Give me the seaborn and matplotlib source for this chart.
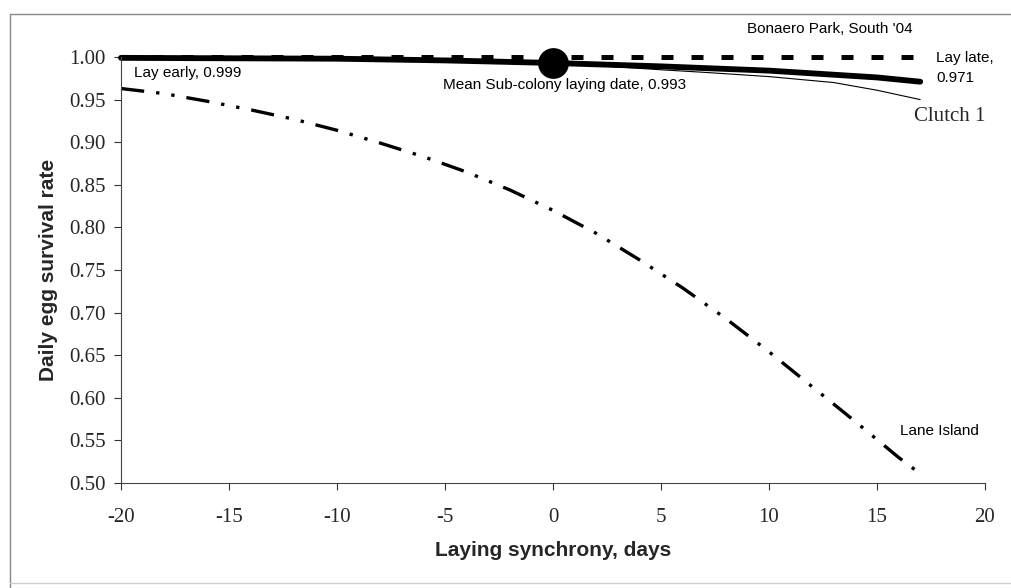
import numpy as np
import pandas as pd
import matplotlib
matplotlib.use("Agg")
import matplotlib.pyplot as plt
from matplotlib.lines import Line2D
import seaborn as sns

# Laying synchrony (days relative to the mean sub-colony laying date)
lane_x = [-20, -18, -16, -14, -12, -10, -8, -6, -4, -2, 0, 2, 4, 6, 8, 10, 12, 14, 16, 17]
lane_y = [0.963, 0.957, 0.948, 0.938, 0.927, 0.914, 0.899, 0.883, 0.865, 0.844,
          0.820, 0.793, 0.762, 0.729, 0.693, 0.654, 0.613, 0.572, 0.530, 0.511]

bonaero_x = [-20, -10, 0, 10, 17]
bonaero_y = [1.000, 1.000, 1.000, 1.000, 1.000]

south_x = [-20, -15, -10, -5, 0, 5, 10, 15, 17]
south_y = [0.999, 0.9985, 0.998, 0.996, 0.993, 0.989, 0.984, 0.976, 0.971]

clutch_x = [-20, -15, -10, -5, 0, 2, 5, 7, 10, 13, 15, 17]
clutch_y = [0.999, 0.9985, 0.998, 0.996, 0.993, 0.990, 0.985, 0.982, 0.977, 0.970, 0.961, 0.950]

mean_x = [0]
mean_y = [0.993]

x_ticks = [-20, -15, -10, -5, 0, 5, 10, 15, 20]
y_ticks = [0.50, 0.55, 0.60, 0.65, 0.70, 0.75, 0.80, 0.85, 0.90, 0.95, 1.00]

sns.set_style("white")
plt.rcParams["font.family"] = ["Liberation Sans", "DejaVu Sans"]

fig = plt.figure(figsize=(10.12, 5.88), dpi=100)
ax = fig.add_axes([121 / 1012, 1 - 483 / 588, (985 - 121) / 1012, (483 - 57) / 588])

lane = pd.DataFrame({"x": lane_x, "y": lane_y})
bonaero = pd.DataFrame({"x": bonaero_x, "y": bonaero_y})
south = pd.DataFrame({"x": south_x, "y": south_y})
clutch = pd.DataFrame({"x": clutch_x, "y": clutch_y})
mean = pd.DataFrame({"x": mean_x, "y": mean_y})

# Lane Island: dash-dot-dot curve
sns.lineplot(data=lane, x="x", y="y", ax=ax, color="black", lw=2.4)
ax.lines[-1].set_dashes((7.0, 3.6, 1.0, 3.6, 1.0, 3.6))
ax.lines[-1].set_dash_capstyle("butt")

# Clutch 1: thin line
sns.lineplot(data=clutch, x="x", y="y", ax=ax, color="black", lw=0.8)

# Bonaero Park, South '04: thick solid line
sns.lineplot(data=south, x="x", y="y", ax=ax, color="black", lw=4.2)
ax.lines[-1].set_solid_capstyle("round")

# Bonaero Park: thick dashed line
sns.lineplot(data=bonaero, x="x", y="y", ax=ax, color="black", lw=3.6)
ax.lines[-1].set_dashes((2.4, 3.6))

for ln in ax.lines:
    ln.set_clip_on(False)

# Mean sub-colony laying date
sns.scatterplot(data=mean, x="x", y="y", ax=ax, s=420, color="black",
                edgecolor="black", zorder=5, clip_on=False)

ax.set_xlim(-20, 20)
ax.set_ylim(0.50, 1.00)
ax.set_xticks(x_ticks)
ax.set_xticklabels([f"{t:d}" for t in x_ticks])
ax.set_yticks(y_ticks)
ax.set_yticklabels([f"{t:.2f}" for t in y_ticks])

serif = ["Liberation Serif", "DejaVu Serif"]
for lab in ax.get_xticklabels() + ax.get_yticklabels():
    lab.set_fontfamily(serif)
    lab.set_fontsize(15)

ax.tick_params(axis="x", direction="out", length=5, width=0.8, pad=13, color="#333333")
ax.tick_params(axis="y", direction="out", length=5, width=0.8, pad=6, color="#333333")
ax.tick_params(bottom=True, left=True)

for side in ("top", "right"):
    ax.spines[side].set_visible(False)
for side in ("left", "bottom"):
    ax.spines[side].set_color("#444444")
    ax.spines[side].set_linewidth(0.8)

ax.set_xlabel("Laying synchrony, days", fontsize=15, fontweight="bold", labelpad=10)
ax.set_ylabel("Daily egg survival rate", fontsize=15, fontweight="bold", labelpad=8)

note = dict(fontsize=11, color="black", clip_on=False, va="center", ha="left")
ax.text(9.0, 1.033, "Bonaero Park, South '04", **note)
ax.text(-19.4, 0.981, "Lay early, 0.999", **note)
ax.text(-5.1, 0.967, "Mean Sub-colony laying date, 0.993", **note)
ax.text(17.75, 0.987, "Lay late,\n0.971", linespacing=1.6, **note)
ax.text(16.07, 0.561, "Lane Island", **note)
ax.text(16.7, 0.930, "Clutch 1", fontsize=15, family=serif, va="center",
        ha="left", clip_on=False)

# Outer frame of the figure panel
frame = dict(color="#888888", lw=1.0, transform=fig.transFigure)
fig.add_artist(Line2D([10 / 1012, 1.0], [1 - 14 / 588, 1 - 14 / 588], **frame))
fig.add_artist(Line2D([10 / 1012, 10 / 1012], [1 - 14 / 588, 0.0], **frame))
fig.add_artist(Line2D([10 / 1012, 1.0], [1 - 583 / 588, 1 - 583 / 588],
                      color="#cccccc", lw=1.0, transform=fig.transFigure))

fig.savefig("out.png", dpi=100)
